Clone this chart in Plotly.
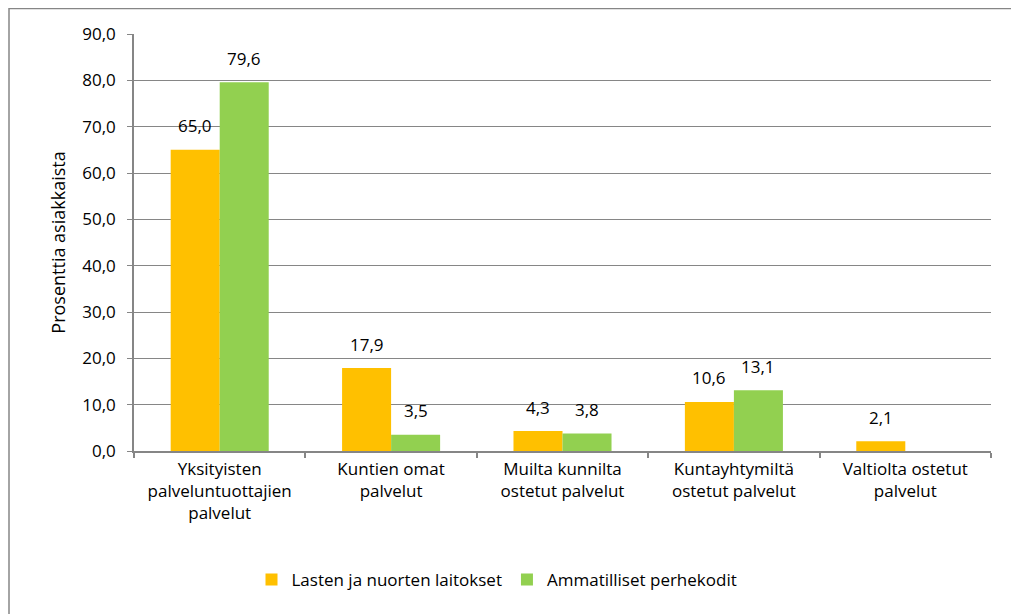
import plotly.graph_objects as go

categories = [
    "Yksityisten<br>palveluntuottajien<br>palvelut",
    "Kuntien omat<br>palvelut",
    "Muilta kunnilta<br>ostetut palvelut",
    "Kuntayhtymiltä<br>ostetut palvelut",
    "Valtiolta ostetut<br>palvelut",
]
laitokset = [65.0, 17.9, 4.3, 10.6, 2.1]
perhekodit = [79.6, 3.5, 3.8, 13.1, None]
series_names = ["Lasten ja nuorten laitokset", "Ammatilliset perhekodit"]
y_ticks = [0, 10, 20, 30, 40, 50, 60, 70, 80, 90]

FONT = "'Open Sans', sans-serif"
TXT = "#000000"
FS = 17
colors = ["#FFC000", "#92D050"]

fig = go.Figure()
for name, vals, col in [(series_names[0], laitokset, colors[0]),
                        (series_names[1], perhekodit, colors[1])]:
    fig.add_trace(go.Bar(
        x=categories, y=vals, name=name,
        marker=dict(color=col, line=dict(width=0)),
    ))

# page body has an 8px margin; figure is sized so page coordinates match
W, H = 1011, 606
L, R, T, B = 126, 28, 26, 163
pw, ph = W - L - R, H - T - B
bargap = 0.428
bar_px = pw / len(categories) * (1 - bargap) / 2

annotations = []
for vals, sign in [(laitokset, -1), (perhekodit, 1)]:
    for c, v in zip(categories, vals):
        if v is None:
            continue
        annotations.append(dict(
            x=c, y=v, xref="x", yref="y",
            text=f"{v:.1f}".replace(".", ","),
            showarrow=False, xshift=sign * bar_px / 2, yshift=24,
            yanchor="middle", xanchor="center",
            font=dict(family=FONT, size=FS, color=TXT)))

fig.update_layout(
    width=W, height=H,
    margin=dict(l=L, r=R, t=T, b=B, autoexpand=False),
    paper_bgcolor="white", plot_bgcolor="white",
    separators=", ",
    barmode="group", bargap=bargap, bargroupgap=0,
    font=dict(family=FONT, size=FS, color=TXT),
    showlegend=True,
    legend=dict(orientation="h", x=(489 - L) / pw, xanchor="center",
                y=(443 - 572) / ph, yanchor="middle",
                font=dict(family=FONT, size=FS, color=TXT),
                itemwidth=30, traceorder="normal"),
    xaxis=dict(showline=True, linecolor="#868686", linewidth=1.5,
               ticks="outside", tickson="boundaries", ticklen=5,
               tickcolor="#868686", tickwidth=1.5,
               ticklabelstandoff=2,
               tickfont=dict(family=FONT, size=FS, color=TXT),
               showgrid=False, automargin=False),
    yaxis=dict(range=[0, 90], tickvals=y_ticks, tickformat=".1f",
               showline=True, linecolor="#868686", linewidth=1.5,
               ticks="outside", ticklen=5, tickcolor="#868686", tickwidth=1,
               ticklabelstandoff=8,
               showgrid=True, gridcolor="#868686", gridwidth=1,
               tickfont=dict(family=FONT, size=FS, color=TXT),
               automargin=False,
               title=dict(text="Prosenttia asiakkaista", standoff=12,
                          font=dict(family=FONT, size=18, color=TXT))),
    annotations=annotations,
    shapes=[dict(type="rect", xref="paper", yref="paper",
                 x0=(1 - L) / pw, x1=(1030 - L) / pw,
                 y0=(443 - 630) / ph, y1=(443 - 0.5) / ph,
                 line=dict(color="#868686", width=1.5), layer="below")],
)

fig.write_html("out.html")
